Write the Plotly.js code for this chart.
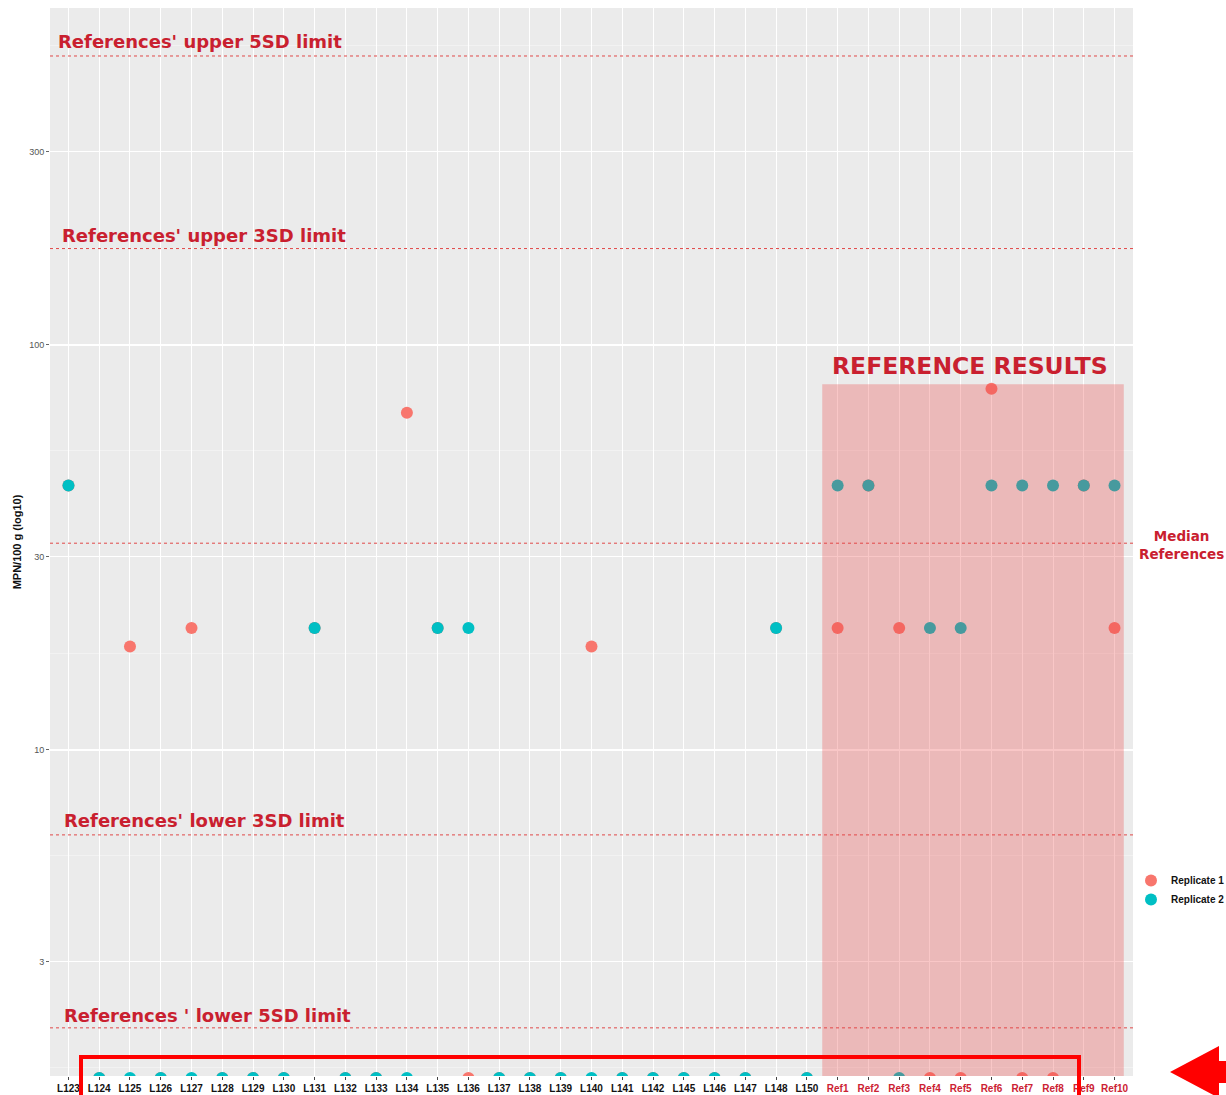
<!DOCTYPE html>
<html>
<head>
<meta charset="utf-8">
<script src="https://cdn.plot.ly/plotly-3.0.1.min.js"></script>
<style>html,body{margin:0;padding:0;background:#fff;}#chart{width:1226px;height:1095px;}</style>
</head>
<body>
<div id="chart"></div>
<script>
// ---- data ----
const categories = ["L123","L124","L125","L126","L127","L128","L129","L130","L131","L132","L133","L134","L135","L136","L137","L138","L139","L140","L141","L142","L145","L146","L147","L148","L150","Ref1","Ref2","Ref3","Ref4","Ref5","Ref6","Ref7","Ref8","Ref9","Ref10"];
const replicate1 = [45,1.55,18,1.55,20,1.55,1.55,1.55,20,1.55,1.55,68,20,1.55,1.55,1.55,1.55,18,1.55,1.55,1.55,1.55,1.55,20,1.55,20,45,20,1.55,1.55,78,1.55,1.55,45,20];
const replicate2 = [45,1.55,1.55,1.55,1.55,1.55,1.55,1.55,20,1.55,1.55,1.55,20,20,1.55,1.55,1.55,1.55,1.55,1.55,1.55,1.55,1.55,20,1.55,45,45,1.55,20,20,45,45,45,45,45];
const yTickVals = [3,10,30,100,300];
const yTickText = ["3","10","30","100","300"];
const limitNames = ["References' upper 5SD limit","References' upper 3SD limit","References' lower 3SD limit","References ' lower 5SD limit"];
const limitValues = [517,173,6.17,2.06];
const medianValue = 32.4;
const referenceTop = 80;

// ---- layout helpers ----
const W=1226,H=1095,L=50,R=93,T=8,B=19;
const PW=W-L-R, PH=H-T-B;
const yLo=0.195, yHi=2.832;
const fy = v => (Math.log10(v)-yLo)/(yHi-yLo);
const px = x => (x-L)/PW;
const py = y => (H-B-y)/PH;

const red1='#F8766D', teal='#00BFC4', txtRed='#c9202f';

const tickText = categories.map(c => c.startsWith('Ref') ? '<span style="color:#cc2233">'+c+'</span>' : c);

const traces = [
  {x:categories, y:replicate1, type:'scatter', mode:'markers', name:'<b>Replicate 1</b>',
   marker:{color:red1, size:12}, cliponaxis:true},
  {x:categories, y:replicate2, type:'scatter', mode:'markers', name:'<b>Replicate 2</b>',
   marker:{color:teal, size:12}, cliponaxis:true}
];

const shapes = [];
const annotations = [];
const lineStyle = {color:'#e04848', width:1, dash:'dot'};
limitValues.concat([medianValue]).forEach(v => {
  shapes.push({type:'line', xref:'paper', yref:'paper', x0:0, x1:1, y0:fy(v), y1:fy(v), line:lineStyle, layer:'above'});
});
// reference rectangle
shapes.push({type:'rect', xref:'x', yref:'paper', x0:24.5, x1:34.3, y0:0, y1:fy(referenceTop),
  fillcolor:'rgba(235,70,70,0.3)', line:{width:0}, layer:'above'});
// red highlight box
shapes.push({type:'rect', xref:'paper', yref:'paper', x0:px(81), x1:px(1079), y0:py(1057), y1:py(1100),
  line:{color:'#ff0000', width:4}, fillcolor:'rgba(0,0,0,0)', layer:'above'});
// red arrow
const arrowPts = [[1170,1072],[1219,1046],[1219,1061],[1230,1061],[1230,1083],[1219,1083],[1219,1098]];
shapes.push({type:'path', xref:'paper', yref:'paper',
  path: 'M ' + arrowPts.map(p => px(p[0])+','+py(p[1])).join(' L ') + ' Z',
  fillcolor:'#ff0000', line:{width:0}, layer:'above'});

const labelPos = [[56,42],[60,236],[62,820],[62,1015]];
limitNames.forEach((n,i) => {
  annotations.push({xref:'paper', yref:'paper', x:px(labelPos[i][0]), y:py(labelPos[i][1]),
    xanchor:'left', yanchor:'middle', text:'<b>'+n+'</b>', showarrow:false,
    font:{family:'DejaVu Sans', size:18, color:txtRed}});
});
annotations.push({xref:'paper', yref:'paper', x:px(970), y:py(366), xanchor:'center', yanchor:'middle',
  text:'<b>REFERENCE RESULTS</b>', showarrow:false, font:{family:'DejaVu Sans', size:23.5, color:txtRed}});
annotations.push({xref:'paper', yref:'paper', x:px(1181), y:py(545), xanchor:'center', yanchor:'middle',
  text:'<b>Median<br>References</b>', showarrow:false, font:{family:'DejaVu Sans', size:13.5, color:txtRed}});

const layout = {
  width:W, height:H,
  margin:{l:L, r:R, t:T, b:B, autoexpand:false},
  paper_bgcolor:'#ffffff', plot_bgcolor:'#ebebeb',
  showlegend:true,
  legend:{x:px(1131), y:py(866), xanchor:'left', yanchor:'top', bgcolor:'rgba(255,255,255,0)',
    font:{family:'Liberation Sans', size:10, color:'#111'}, itemwidth:30, tracegroupgap:0},
  xaxis:{type:'category', categoryorder:'array', categoryarray:categories,
    tickmode:'array', tickvals:categories, ticktext:tickText,
    range:[-0.6,34.6], showgrid:true, gridcolor:'#ffffff', gridwidth:1, zeroline:false,
    ticks:'outside', ticklen:3, tickcolor:'#444', tickangle:0,
    tickfont:{family:'Liberation Sans', size:10, color:'#111', weight:'bold'}, showline:false},
  yaxis:{type:'log', range:[yLo,yHi], tickmode:'array', tickvals:yTickVals, ticktext:yTickText,
    showgrid:true, gridcolor:'#ffffff', gridwidth:1.2, zeroline:false,
    ticks:'outside', ticklen:3, tickcolor:'#666',
    tickfont:{family:'Liberation Sans', size:9, color:'#555'},
    minor:{tickvals:[1.64,5.48,17.3,54.8,173,548], showgrid:true, gridcolor:'#f6f6f6', gridwidth:0.6, ticks:''},
    title:{text:'<b>MPN/100 g (log10)</b>', font:{family:'Liberation Sans', size:11, color:'#111'}, standoff:5}},
  shapes:shapes, annotations:annotations
};

Plotly.newPlot('chart', traces, layout, {displayModeBar:false, staticPlot:true});
</script>
</body>
</html>
